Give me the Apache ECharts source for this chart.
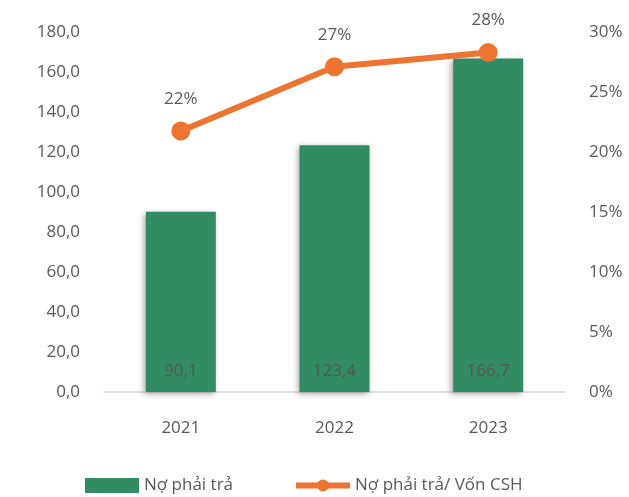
<!DOCTYPE html>
<html>
<head>
<meta charset="utf-8">
<script src="https://cdn.jsdelivr.net/npm/echarts@6/dist/echarts.min.js"></script>
<style>
html, body { margin: 0; padding: 0; background: #fff; }
#chart { width: 629px; height: 497px; }
</style>
</head>
<body>
<div id="chart"></div>
<script>
var years = ['2021', '2022', '2023'];
var debt = [90.1, 123.4, 166.7];
var debtRatio = [0.2175, 0.271, 0.283];
var ratioLabels = ['22%', '27%', '28%'];

var font = '"Open Sans", "Noto Sans", sans-serif';
var gray = '#595959';

var myChart = echarts.init(document.getElementById('chart'));

function comma(v) {
    return Number(v).toFixed(1).split('.').join(',');
}

var option = {
    animation: false,
    grid: { left: 104, right: 64, top: 32, bottom: 105 },
    legend: {
        bottom: -2,
        left: 80,
        itemGap: 60,
        itemWidth: 54,
        itemHeight: 15,
        textStyle: { color: gray, fontSize: 17, fontFamily: font },
        data: [
            { name: 'Nợ phải trả', icon: 'rect' },
            {
                name: 'Nợ phải trả/ Vốn CSH',
                itemStyle: { color: '#ed7431' },
                lineStyle: { color: '#ed7431', width: 6 }
            }
        ]
    },
    xAxis: {
        type: 'category',
        data: years,
        axisLine: { lineStyle: { color: '#d9d9d9', width: 1.5 } },
        axisTick: { show: false },
        axisLabel: { color: gray, fontSize: 17, fontFamily: font, margin: 28 }
    },
    yAxis: [
        {
            type: 'value',
            min: 0, max: 180, interval: 20,
            splitLine: { show: false },
            axisLabel: {
                color: gray, fontSize: 17, fontFamily: font, margin: 24,
                formatter: comma
            }
        },
        {
            type: 'value',
            min: 0, max: 0.3, interval: 0.05,
            splitLine: { show: false },
            axisLabel: {
                color: gray, fontSize: 17, fontFamily: font, margin: 24,
                formatter: function (v) { return Math.round(v * 100) + '%'; }
            }
        }
    ],
    series: [
        {
            name: 'Nợ phải trả',
            type: 'bar',
            data: debt,
            barWidth: 70,
            itemStyle: {
                color: '#318c63',
                shadowColor: 'rgba(0,0,0,0.35)',
                shadowBlur: 6,
                shadowOffsetX: -2,
                shadowOffsetY: 2
            },
            label: {
                show: true,
                position: 'insideBottom',
                distance: 12,
                color: '#555',
                fontSize: 17,
                fontFamily: font,
                formatter: function (p) { return comma(p.value); }
            }
        },
        {
            name: 'Nợ phải trả/ Vốn CSH',
            type: 'line',
            yAxisIndex: 1,
            data: debtRatio,
            symbol: 'circle',
            symbolSize: 19,
            itemStyle: { color: '#ed7431' },
            lineStyle: { color: '#ed7431', width: 6 },
            label: {
                show: true,
                position: 'top',
                distance: 14,
                color: gray,
                fontSize: 17,
                fontFamily: font,
                formatter: function (p) { return ratioLabels[p.dataIndex]; }
            }
        }
    ]
};
myChart.setOption(option);
</script>
</body>
</html>
